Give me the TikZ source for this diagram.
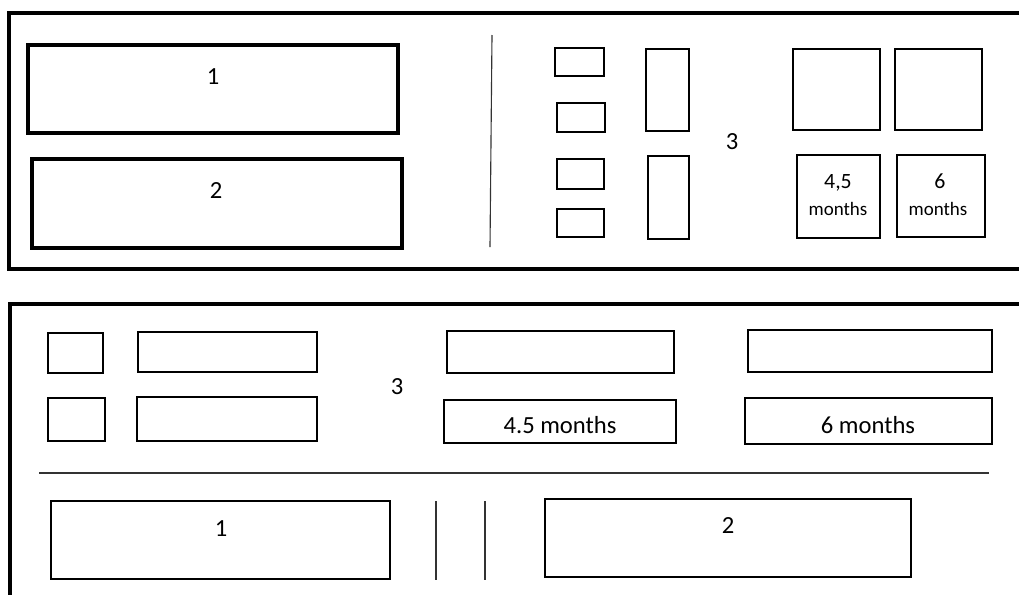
\documentclass[tikz,border=0pt]{standalone}
\usepackage{fontspec}
\setmainfont{Carlito}
\begin{document}
\begin{tikzpicture}[x=0.025cm, y=-0.025cm,
  frame/.style={line width=2.6pt},
  bigbox/.style={line width=2.5pt},
  box/.style={line width=1.7pt},
  rule/.style={line width=0.8pt, black!80},
  lbl/.style={font=\fontsize{17.5}{20}\selectfont, inner sep=0pt},
  lblbase/.style={lbl, anchor=base},
  small/.style={font=\fontsize{13.5}{16}\selectfont, inner sep=0pt, anchor=base}]
  \clip (0,0) rectangle (1019,594);
  % top panel: frame open to the right
  \draw[frame] (1030,13) -- (9,13) -- (9,269) -- (1030,269);
  \draw[bigbox] (28,45) rectangle (398,133);
  \draw[bigbox] (32,159) rectangle (402,248);
  \node[lbl] (top1) at (213,77) {1};
  \node[lbl] (top2) at (216,191) {2};
  \draw[rule] (492,35) -- (490,247);
  % small boxes left of 3
  \draw[box] (555,48) rectangle (604,76);
  \draw[box] (557,103) rectangle (605,132);
  \draw[box] (557,159) rectangle (604,189);
  \draw[box] (557,209) rectangle (604,237);
  \draw[box] (646,49) rectangle (689,131);
  \draw[box] (648,156) rectangle (689,239);
  \node[lbl] (top3) at (732,142) {3};
  % squares right of 3
  \draw[box] (793,49) rectangle (880,130);
  \draw[box] (895,49) rectangle (982,130);
  \draw[box] (797,155) rectangle (880,238);
  \draw[box] (897,155) rectangle (985,237);
  \node[lbl, anchor=base, font=\fontsize{15.5}{18}\selectfont] (sqA) at (838,188) {4,5};
  \node[small] (sqAm) at (838,215) {months};
  \node[lbl, anchor=base, font=\fontsize{15.5}{18}\selectfont] (sqB) at (940,188) {6};
  \node[small] (sqBm) at (938,215) {months};

  % bottom panel: frame open to the right and below
  \draw[frame] (1030,304) -- (10,304) -- (10,600);
  \draw[box] (48,333) rectangle (103,373);
  \draw[box] (48,398) rectangle (105,441);
  \draw[box] (138,332) rectangle (317,372);
  \draw[box] (137,397) rectangle (317,441);
  \node[lbl] (bot3) at (397,387) {3};
  \draw[box] (447,331) rectangle (674,373);
  \draw[box] (444,400) rectangle (676,443);
  \node[lblbase] (botA) at (560,433) {4.5 months};
  \draw[box] (748,330) rectangle (992,372);
  \draw[box] (745,398) rectangle (992,444);
  \node[lblbase] (botB) at (868,433) {6 months};
  \draw[rule] (39,473) -- (989,473);
  \draw[box] (51,501) rectangle (390,579);
  \draw[box] (545,499) rectangle (911,577);
  \node[lbl] (bot1) at (221,529) {1};
  \node[lbl] (bot2) at (728,526) {2};
  \draw[rule] (436,501) -- (436,580);
  \draw[rule] (485,501) -- (485,580);
\end{tikzpicture}
\end{document}
